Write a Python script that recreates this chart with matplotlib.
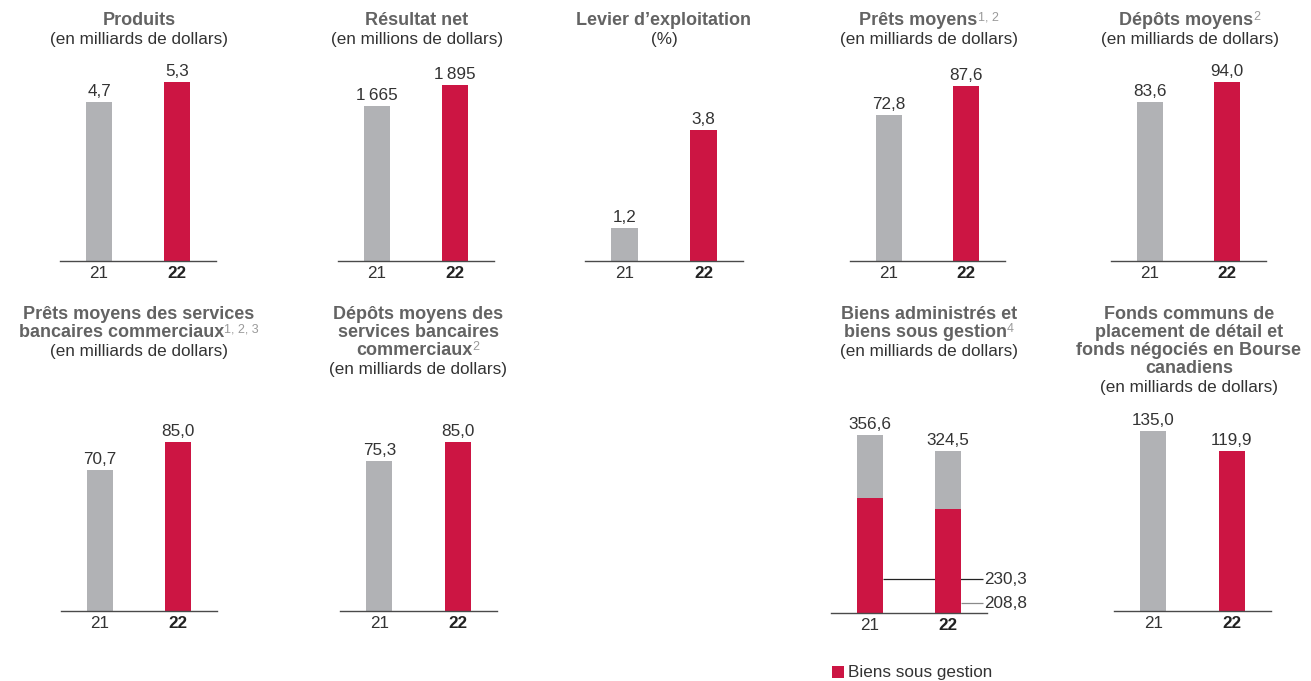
import matplotlib
matplotlib.use("Agg")
import matplotlib.pyplot as plt

# ---------------- data ----------------
years = ["21", "22"]
produits = [4.7, 5.3]                      # milliards $
resultat_net = [1665, 1895]                # millions $
levier = [1.2, 3.8]                        # %
prets_moyens = [72.8, 87.6]
depots_moyens = [83.6, 94.0]
prets_commerciaux = [70.7, 85.0]
depots_commerciaux = [75.3, 85.0]
biens_admin_total = [356.6, 324.5]         # biens administrés et biens sous gestion
biens_gestion = [230.3, 208.8]             # biens sous gestion
fonds_communs = [135.0, 119.9]
legend_label = "Biens sous gestion"

# ---------------- style ----------------
W, H = 1311, 681
GRAY = "#b1b2b5"
RED = "#cc1543"
TITLE_C = "#636363"
SUB_C = "#333333"
SUP_C = "#9a9a9a"
TXT_C = "#333333"
AXIS_C = "#4a4a4a"
F_TITLE = 13
F_SUB = 12.3
F_VAL = 12.3
F_SUP = 9

plt.rcParams["font.family"] = ["Liberation Sans", "DejaVu Sans"]

fig = plt.figure(figsize=(W / 100, H / 100), dpi=100)
fig.patch.set_facecolor("white")
renderer = fig.canvas.get_renderer()


def fr(v, dec=1):
    s = f"{v:,.{dec}f}"
    return s.replace(",", "\u2009").replace(".", ",")


def add_panel(left, right, base, scale, ymin=0.0, height=240):
    ax = fig.add_axes([left / W, 1 - base / H, (right - left) / W, height / H])
    ax.set_xlim(-0.5, 1.5)
    ax.set_ylim(ymin, ymin + height / scale)
    for s in ("top", "left", "right"):
        ax.spines[s].set_visible(False)
    ax.spines["bottom"].set_color(AXIS_C)
    ax.spines["bottom"].set_linewidth(1.0)
    ax.set_yticks([])
    ax.set_xticks([0, 1])
    ax.set_xticklabels(years, fontsize=F_VAL, color=TXT_C)
    ax.get_xticklabels()[1].set_fontweight("bold")
    ax.get_xticklabels()[1].set_color("#222222")
    ax.tick_params(axis="x", length=0, pad=3.5)
    ax.patch.set_alpha(0)
    return ax


BW = 0.333


def simple_bars(ax, vals, dec=1):
    bars = ax.bar([0, 1], vals, width=BW, color=[GRAY, RED], zorder=2)
    for b, v in zip(bars, vals):
        ax.annotate(fr(v, dec), (b.get_x() + b.get_width() / 2, b.get_height()),
                    xytext=(0, 6), textcoords="offset pixels", ha="center",
                    va="baseline", fontsize=F_VAL, color=TXT_C)
    return bars


def rich_line(xc, yb, runs):
    items = []
    total = 0.0
    for s, kind in runs:
        if kind == "b":
            kw = dict(fontsize=F_TITLE, fontweight="bold", color=TITLE_C)
            rise = 0
        elif kind == "sup":
            kw = dict(fontsize=F_SUP, color=SUP_C)
            rise = 5
        else:
            kw = dict(fontsize=F_SUB, color=SUB_C)
            rise = 0
        t = fig.text(0, 0, s, ha="left", va="baseline", **kw)
        w = t.get_window_extent(renderer).width
        items.append((t, w, rise))
        total += w
    x = xc - total / 2
    for t, w, rise in items:
        t.set_position((x / W, 1 - (yb - rise) / H))
        x += w


def title_block(xc, y0, bold_lines, sub, step=18, sub_step=19):
    y = y0
    for i, line in enumerate(bold_lines):
        if i > 0:
            y += step
        rich_line(xc, y, line)
    y += sub_step
    rich_line(xc, y, [(sub, "r")])


SUB_MD = "(en milliards de dollars)"

# ---------------- top row ----------------
ax = add_panel(60, 216, 261, 33.8)
simple_bars(ax, produits)
title_block(139, 25, [[("Produits", "b")]], SUB_MD)

ax = add_panel(338, 494, 261, 0.093)
simple_bars(ax, resultat_net, dec=0)
title_block(417, 25, [[("Résultat net", "b")]], "(en millions de dollars)")

ax = add_panel(585, 743, 261, 37.7, ymin=0.325)
simple_bars(ax, levier)
title_block(664, 25, [[("Levier d’exploitation", "b")]], "(%)")

ax = add_panel(850, 1005, 261, 2.0)
simple_bars(ax, prets_moyens)
title_block(929, 25, [[("Prêts moyens", "b"), ("1, 2", "sup")]], SUB_MD)

ax = add_panel(1111, 1266, 261, 1.90)
simple_bars(ax, depots_moyens)
title_block(1190, 25, [[("Dépôts moyens", "b"), ("2", "sup")]], SUB_MD)

# ---------------- bottom row ----------------
ax = add_panel(61, 217, 611, 1.99)
simple_bars(ax, prets_commerciaux)
title_block(139, 319, [[("Prêts moyens des services", "b")],
                       [("bancaires commerciaux", "b"), ("1, 2, 3", "sup")]], SUB_MD)

ax = add_panel(340, 497, 611, 1.99)
simple_bars(ax, depots_commerciaux)
title_block(418, 319, [[("Dépôts moyens des", "b")],
                       [("services bancaires", "b")],
                       [("commerciaux", "b"), ("2", "sup")]], SUB_MD)

# stacked panel
ax = add_panel(831, 987, 613, 0.50)
admin_part = [t - g for t, g in zip(biens_admin_total, biens_gestion)]
red_bars = ax.bar([0, 1], biens_gestion, width=BW, color=RED, zorder=2,
                  label=legend_label)
ax.bar([0, 1], admin_part, bottom=biens_gestion, width=BW, color=GRAY, zorder=2)
for i, v in enumerate(biens_admin_total):
    ax.annotate(fr(v), (i, v), xytext=(0, 6), textcoords="offset pixels",
                ha="center", va="baseline", fontsize=F_VAL, color=TXT_C)
# leader lines for the "biens sous gestion" values
lead_end = 1.449
y_hi, y_lo = 68, 20
ax.plot([0 + BW / 2, lead_end], [y_hi, y_hi], color="#222222", lw=0.9,
        zorder=1, clip_on=False, solid_capstyle="butt")
ax.plot([1 + BW / 2, lead_end], [y_lo, y_lo], color="#8a8a8a", lw=0.9,
        zorder=1, clip_on=False, solid_capstyle="butt")
ax.text(lead_end + 0.02, y_hi, fr(biens_gestion[0]), ha="left", va="center",
        fontsize=F_VAL, color=TXT_C, clip_on=False)
ax.text(lead_end + 0.02, y_lo, fr(biens_gestion[1]), ha="left", va="center",
        fontsize=F_VAL, color=TXT_C, clip_on=False)
title_block(929, 319, [[("Biens administrés et", "b")],
                       [("biens sous gestion", "b"), ("4", "sup")]], SUB_MD)
fig.legend(handles=[red_bars], labels=[legend_label], loc="center left",
           bbox_to_anchor=(832 / W, 1 - 673 / H), frameon=False,
           handlelength=0.7, handleheight=0.7, handletextpad=0.25,
           borderpad=0, borderaxespad=0, fontsize=F_VAL,
           labelcolor=TXT_C)

ax = add_panel(1114, 1271, 611, 1.333)
simple_bars(ax, fonds_communs)
title_block(1189, 319, [[("Fonds communs de", "b")],
                        [("placement de détail et", "b")],
                        [("fonds négociés en Bourse", "b")],
                        [("canadiens", "b")]], SUB_MD)

fig.savefig("out.png", dpi=100, facecolor="white")
